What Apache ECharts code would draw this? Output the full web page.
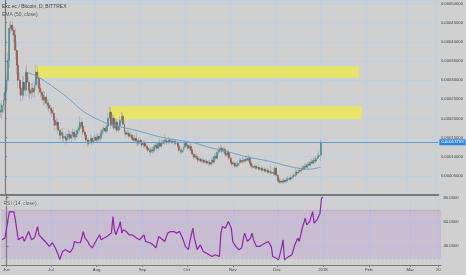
<!DOCTYPE html>
<html><head><meta charset="utf-8">
<script src="https://cdn.jsdelivr.net/npm/echarts@6/dist/echarts.min.js"></script>
<style>html,body{margin:0;padding:0;background:#d0d0d0}#c{width:466px;height:275px}</style>
</head><body><div id="c"></div>
<script>
// ---- data (prices in satoshi = 1e-8 BTC) ----
const firstDay = -4;            // first candle: 2017-05-28 (days from 2017-06-01)
const firstOpen = 21000;
const closes = [22141,21619,23447,24752,26841,29974,35196,43551,44335,43029,
 41724,37807,33890,29974,27885,26057,29452,27363,32063,29452,
 27363,26580,27885,26841,28668,32063,30496,27885,26841,26057,
 24752,25535,23969,23447,22663,22141,21358,19530,18225,19008,
 16919,15614,16397,14830,15352,14308,15091,15875,14830,15614,
 16397,15091,15875,16919,17441,19008,17963,16397,15614,14308,
 13525,14047,14830,13786,14308,15091,14308,15352,14830,16136,
 16919,17441,16658,17963,20052,21619,18225,20052,17441,19008,
 16919,17963,19530,20575,18486,16397,15875,16136,15352,15614,
 14830,14308,14830,14047,13525,14308,13786,13002,13525,12741,
 12219,11697,11175,11958,11436,12480,13002,12219,13525,12741,
 13786,13525,14308,14047,13786,14308,14047,13786,14047,13525,
 13786,12741,11697,11175,11697,12480,13525,13002,12219,12741,
 11697,10653,9869,10130,9608,9086,9347,8825,9086,8564,
 8825,8303,8564,8042,9086,8564,10130,9608,11175,11697,
 12219,11436,11958,10914,10391,11175,9608,8564,8042,8303,
 7519,7781,8303,9086,8564,9086,8825,9347,9086,9608,
 8303,7519,7258,7519,6997,7258,6736,6997,6475,6736,
 6214,6475,5953,6214,5692,5953,5431,6997,5170,3864,
 3342,3603,3342,3864,3603,4125,4386,4125,4647,4909,
 5170,5953,5692,6475,6214,6997,6736,7519,7258,8042,
 7781,8564,8303,9086,8825,9608,10130,10391,13759];
const upperWicks = [1500,1800,1200,2000,1500,2000,2000,1500,1300,1000,
 1200,2000,2500,2500,2000,1500,1800,1500,1200,2000,
 1500,1800,1200,1500,1000,2000,1500,1500,1200,1000,
 1200,1500,1000,1000,1200,900,1000,1500,1200,1000,
 1200,1000,900,1100,800,1000,900,1300,800,900,
 1000,800,900,1000,800,1500,1000,900,800,900,
 700,800,900,700,1000,800,900,700,800,900,
 800,700,900,800,1500,1566,1200,1000,900,1000,
 800,900,1000,1200,900,800,700,900,700,800,
 700,900,800,1500,700,800,600,700,800,700,
 600,700,800,600,700,800,1000,600,700,1200,
 800,600,1500,700,600,800,600,700,600,500,
 600,700,800,600,700,900,600,700,800,600,
 700,600,500,600,700,500,600,500,600,500,
 600,500,600,700,500,800,700,900,600,800,
 1000,700,600,700,500,800,600,500,700,600,
 500,600,700,500,600,800,600,500,800,1000,
 600,500,600,500,400,500,600,400,500,600,
 500,400,500,600,1500,500,1200,700,500,400,
 500,400,600,500,400,600,500,400,500,600,
 500,1200,800,600,500,700,600,800,700,600,
 700,600,800,700,900,600,800,1000,800];
const lowerWicks = [2000,1500,1800,2000,2500,3000,2500,2000,1500,1500,
 2000,2500,2500,2000,2000,1800,1500,2000,1500,1500,
 1800,1500,1500,1200,1500,1200,1500,1800,1500,1200,
 1500,1200,1000,1200,1000,1200,1000,1500,1200,1000,
 1200,1000,1100,900,1000,1200,900,800,1000,900,
 800,900,700,800,900,1000,800,700,900,800,
 900,700,800,900,700,800,600,700,800,700,
 700,800,600,700,800,700,900,800,700,600,
 700,600,800,700,600,700,800,600,700,600,
 600,700,600,800,900,600,700,600,800,600,
 700,600,800,900,700,600,700,800,600,700,
 600,700,500,600,700,600,500,600,500,700,
 500,600,700,600,500,600,700,600,500,600,
 600,700,500,600,500,600,500,400,600,500,
 500,400,600,500,400,600,500,600,500,700,
 600,500,600,700,500,600,500,600,500,400,
 500,400,500,600,400,500,600,500,400,500,
 400,500,400,500,400,300,400,500,400,300,
 400,300,400,500,400,300,400,500,400,600,
 500,400,300,400,500,400,300,400,500,400,
 400,500,400,300,400,500,400,300,400,500,
 400,500,400,300,400,500,400,600,1500];
const lastPrice = 13759;

const emaDays   = [14,20,30,42,53,64,71,91,106,129,138,152,165,179,192,199,206,214];
const emaValues = [32063,31279,28929,25535,21880,19530,18486,16658,15091,13525,12480,11175,9869,8825,7519,6997,6736,7258];

const rsiDays = [-3,-1,1,2,3,5,6,8,9,11,12,15,17,19,21,22,25,27,29,31,33,35,36,38,40,43,45,46,48,50,52,53,55,56,58,61,63,64,66,68,71,72,73,74,76,77,78,79,81,83,85,88,90,93,94,97,99,101,103,104,107,109,111,113,115,117,119,121,123,124,126,127,129,131,133,135,137,139,141,144,145,146,148,150,152,153,155,157,159,161,163,165,166,167,169,171,173,175,177,179,180,182,184,186,187,188,189,191,193,195,197,198,200,202,203,205,207,208,210,211,212,213,214];
const rsiValues = [45.2,46.6,61.6,68.5,69.3,68.2,61.6,45.2,43.8,47.7,43.8,52.0,45.2,46.8,56.1,49.3,45.2,42.7,39.7,42.7,38.6,32.8,28.7,35.6,37.0,34.7,38.4,43.8,42.7,42.7,52.0,46.8,43.8,41.1,38.4,45.2,49.3,45.2,46.6,47.9,50.9,64.4,53.4,49.3,56.1,60.2,50.7,53.4,52.0,49.3,49.3,46.6,45.2,49.3,43.8,42.7,41.1,38.4,47.9,46.6,43.8,50.7,52.0,52.0,50.7,52.0,46.6,39.7,37.0,43.8,54.8,46.6,37.0,41.1,35.6,34.2,32.8,31.4,32.8,31.4,50.7,56.1,54.8,60.2,54.8,43.8,39.7,37.0,38.4,50.7,43.8,46.6,50.7,45.2,39.7,39.7,41.1,42.5,43.8,39.7,31.4,30.1,28.7,38.4,45.2,28.7,27.3,31.4,32.8,41.1,46.6,43.8,54.8,63.0,57.5,60.2,68.5,58.9,61.6,64.4,67.2,79.5,80.3];

const zoneStartDays = [20.2, 70.8];
const zoneEndDays   = [239.9, 241.9];
const zoneLows      = [30575, 19870];
const zoneHighs     = [33629, 23185];

const tickDates  = ['2017-06-01','2017-07-01','2017-08-01','2017-09-01','2017-10-01','2017-11-01','2017-12-01','2018-01-01','2018-02-01','2018-03-01','2018-03-20'];
const tickLabels = ['Jun','Jul','Aug','Sep','Oct','Nov','Dec','2018','Feb','Mar','20'];
const rsiTicks = [40, 60, 80];

// ---- build (x values = days since 2017-06-01) ----
const base = Date.UTC(2017, 5, 1);
const dayOf = s => { const p = s.split('-').map(Number); return Math.round((Date.UTC(p[0], p[1]-1, p[2]) - base) / 86400000); };
const tickDays = tickDates.map(dayOf);

const wickData = [], bodyData = [];
closes.forEach((c, i) => {
  const o = i === 0 ? firstOpen : closes[i-1];
  const t = firstDay + i;
  const hi = Math.max(o, c), lo = Math.min(o, c);
  wickData.push([t, o, c, lo - lowerWicks[i], hi + upperWicks[i]]);
  bodyData.push([t, o, c, lo, hi]);
});
const emaData = emaDays.map((d, i) => [d, emaValues[i]]);
const rsiData = rsiDays.map((d, i) => [d, rsiValues[i]]);
const zones = zoneStartDays.map((s, i) => [
  {xAxis: s, yAxis: zoneHighs[i]},
  {xAxis: zoneEndDays[i], yAxis: zoneLows[i]}
]);

const gridLine = '#bcd0e6';
const axisCol = '#7a7a7a';
const txt = '#444';
const font = 'Liberation Sans';
const xMin = -3.37, xMax = 293.8;
const fmtSat = v => (v / 1e8).toFixed(8);

const chart = echarts.init(document.getElementById('c'), null, {renderer: 'canvas'});
chart.setOption({
  animation: false,
  backgroundColor: '#d0d0d0',
  textStyle: {fontFamily: font},
  title: [
    {text: 'Exc.ec / Bitcoin, D, BITTREX', left: 2, top: 4.5, padding: 0,
     textStyle: {fontSize: 5, fontWeight: 'normal', color: txt, fontFamily: font}},
    {text: 'EMA (50, close)', left: 2, top: 12.5, padding: 0,
     textStyle: {fontSize: 5, fontWeight: 'normal', color: '#5a5a5a', fontFamily: font}},
    {text: 'RSI (14, close)', left: 2, top: 200.5, padding: [0.5, 1.5],
     backgroundColor: 'rgba(225,225,225,0.45)', borderColor: '#bdbdbd', borderWidth: 0.5,
     textStyle: {fontSize: 5, fontWeight: 'normal', color: '#5a5a5a', fontFamily: font}}
  ],
  grid: [
    {left: 0, right: 25, top: 0, height: 195},
    {left: 0, right: 25, top: 196, height: 69}
  ],
  xAxis: [
    {type: 'value', gridIndex: 0, min: xMin, max: xMax,
     axisLine: {show: true, onZero: false, lineStyle: {color: axisCol, width: 2}},
     axisTick: {show: false, customValues: tickDays},
     axisLabel: {show: false, customValues: tickDays},
     splitLine: {show: true, lineStyle: {color: gridLine, width: 1}}},
    {type: 'value', gridIndex: 1, min: xMin, max: xMax,
     axisLine: {show: true, onZero: false, lineStyle: {color: axisCol, width: 1}},
     axisTick: {show: true, length: 2, customValues: tickDays, lineStyle: {color: axisCol}},
     axisLabel: {customValues: tickDays, fontSize: 4.3, color: txt, margin: 2.5, hideOverlap: false,
       showMinLabel: true, showMaxLabel: true,
       formatter: v => { const k = tickDays.indexOf(v); return k >= 0 ? tickLabels[k] : ''; }},
     splitLine: {show: true, lineStyle: {color: gridLine, width: 1}}}
  ],
  yAxis: [
    {type: 'value', gridIndex: 0, position: 'right', min: 0, max: 50900, interval: 5000,
     axisLine: {show: true, lineStyle: {color: axisCol, width: 1.2}},
     axisTick: {show: true, length: 2, lineStyle: {color: axisCol}},
     axisLabel: {formatter: fmtSat, fontSize: 4.2, color: txt, margin: 2.5, showMinLabel: false},
     splitLine: {show: true, lineStyle: {color: gridLine, width: 1}}},
    {type: 'value', gridIndex: 1, position: 'right', min: 24.3, max: 81.4,
     axisLine: {show: true, lineStyle: {color: axisCol, width: 1.2}},
     axisTick: {show: true, length: 2, customValues: rsiTicks, lineStyle: {color: axisCol}},
     axisLabel: {customValues: rsiTicks, formatter: v => v.toFixed(4), fontSize: 4.2, color: txt, margin: 2.5},
     splitLine: {show: true, lineStyle: {color: gridLine, width: 1}}}
  ],
  series: [
    {type: 'candlestick', name: 'wick', xAxisIndex: 0, yAxisIndex: 0, data: wickData,
     barWidth: 0.5, encode: {x: 0, y: [1, 2, 3, 4]},
     itemStyle: {color: '#a2a2a2', color0: '#a2a2a2', borderColor: '#a2a2a2', borderColor0: '#a2a2a2', borderWidth: 0.6},
     markArea: {silent: true, z: 1, itemStyle: {color: '#e7e46a', opacity: 1}, data: zones}},
    {type: 'candlestick', name: 'body', xAxisIndex: 0, yAxisIndex: 0, data: bodyData,
     barWidth: 1.4, encode: {x: 0, y: [1, 2, 3, 4]},
     itemStyle: {color: '#2f8a90', color0: '#8f4433', borderColor: '#2f8a90', borderColor0: '#8f4433', borderWidth: 0.4},
     markLine: {silent: true, symbol: 'none',
       lineStyle: {color: '#5d9fd8', width: 1, type: 'solid'},
       label: {position: 'end', distance: 1, formatter: () => fmtSat(lastPrice), color: '#fff',
         fontSize: 4.2, backgroundColor: '#2f86dc', padding: [1, 2, 1, 2], fontFamily: font},
       data: [{yAxis: lastPrice}]}},
    {type: 'line', name: 'EMA', xAxisIndex: 0, yAxisIndex: 0, data: emaData,
     smooth: 0.4, showSymbol: false, symbol: 'none',
     lineStyle: {color: '#6a9cc7', width: 0.9}, z: 3},
    {type: 'line', name: 'RSI', xAxisIndex: 1, yAxisIndex: 1, data: rsiData,
     showSymbol: false, symbol: 'none',
     lineStyle: {color: '#9424a8', width: 1.2},
     markArea: {silent: true, itemStyle: {color: 'rgba(160,80,220,0.15)'}, data: [[{yAxis: 30}, {yAxis: 70}]]},
     markLine: {silent: true, symbol: 'none', label: {show: false},
       lineStyle: {color: '#a79bb2', width: 0.6, type: [2, 2]},
       data: [{yAxis: 30}, {yAxis: 70}]}}
  ]
});
</script>
</body></html>
